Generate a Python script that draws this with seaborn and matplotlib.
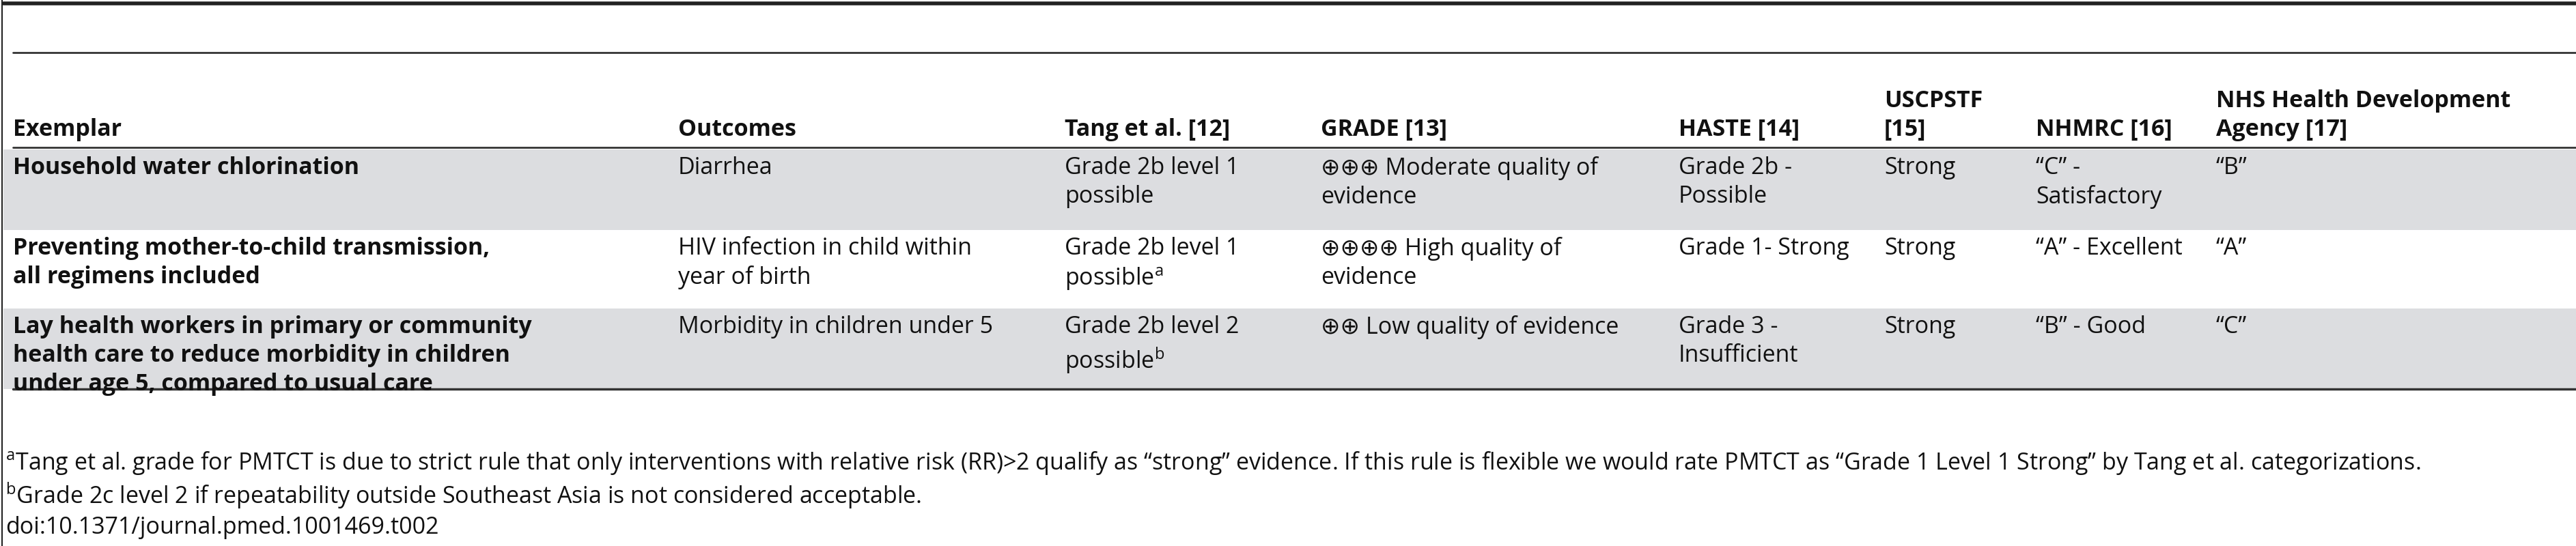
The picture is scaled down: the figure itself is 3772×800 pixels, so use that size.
import matplotlib
matplotlib.use("Agg")
import matplotlib.pyplot as plt
import seaborn as sns

headers = ["Exemplar", "Outcomes", "Tang et al. [12]", "GRADE [13]", "HASTE [14]",
           "USCPSTF\n[15]", "NHMRC [16]", "NHS Health Development\nAgency [17]"]
exemplars = ["Household water chlorination",
             "Preventing mother-to-child transmission,\nall regimens included",
             "Lay health workers in primary or community\nhealth care to reduce morbidity in children\nunder age 5, compared to usual care"]
outcomes = ["Diarrhea", "HIV infection in child within\nyear of birth", "Morbidity in children under 5"]
tang = ["Grade 2b level 1\npossible", "Grade 2b level 1\npossible$^{\\mathrm{a}}$", "Grade 2b level 2\npossible$^{\\mathrm{b}}$"]
grade = ["\u2295\u2295\u2295 Moderate quality of\nevidence", "\u2295\u2295\u2295\u2295 High quality of\nevidence",
         "\u2295\u2295 Low quality of evidence"]
haste = ["Grade 2b -\nPossible", "Grade 1- Strong", "Grade 3 -\nInsufficient"]
uscpstf = ["Strong", "Strong", "Strong"]
nhmrc = ["\u201cC\u201d -\nSatisfactory", "\u201cA\u201d - Excellent", "\u201cB\u201d - Good"]
nhs = ["\u201cB\u201d", "\u201cA\u201d", "\u201cC\u201d"]
footnotes = ["$^{\\mathrm{a}}$Tang et al. grade for PMTCT is due to strict rule that only interventions with relative risk (RR)>2 qualify as \u201cstrong\u201d evidence. If this rule is flexible we would rate PMTCT as \u201cGrade 1 Level 1 Strong\u201d by Tang et al. categorizations.",
             "$^{\\mathrm{b}}$Grade 2c level 2 if repeatability outside Southeast Asia is not considered acceptable.",
             "doi:10.1371/journal.pmed.1001469.t002"]

sns.set_theme(style="white")
FAM = ["Open Sans", "DejaVu Sans"]
plt.rcParams['font.family'] = FAM
plt.rcParams['mathtext.fontset'] = 'custom'
plt.rcParams['mathtext.rm'] = 'Open Sans'

fig = plt.figure(figsize=(37.72, 8), dpi=100)
ax = fig.add_axes([0, 0, 1, 1])
ax.set_xlim(0, 3772)
ax.set_ylim(800, 0)
ax.axis("off")

colx = [19, 993, 1559, 1934, 2458, 2759, 2981, 3245]
row_bounds = [219, 337, 452, 570]
FS = 24.5
LS = 1.3

for i, (y0, y1) in enumerate(zip(row_bounds[:-1], row_bounds[1:])):
    if i % 2 == 0:
        ax.axhspan(y0, y1, xmin=5 / 3772, xmax=1, color="#dcdde0", lw=0)

ax.plot([5, 3772], [5, 5], color="#222", lw=4)
ax.plot([3, 3], [0, 800], color="#222", lw=1.5)
for y, lw in [(77, 2), (216, 2), (570, 2.5)]:
    ax.plot([19, 3772], [y, y], color="#333", lw=lw)

for x, h in zip(colx, headers):
    ax.text(x, 207, h, fontsize=FS, fontweight="bold", va="bottom", ha="left",
            linespacing=LS, color="#111")

cols = [exemplars, outcomes, tang, grade, haste, uscpstf, nhmrc, nhs]
for r in range(3):
    ytop = row_bounds[r] + 10
    for c, (x, col) in enumerate(zip(colx, cols)):
        ax.text(x, ytop, col[r], fontsize=FS, va="top", ha="left", linespacing=LS,
                fontweight="bold" if c == 0 else "normal", color="#111")

for txt, y in zip(footnotes, [698, 748, 790]):
    ax.text(8, y, txt, fontsize=FS, va="bottom", ha="left", color="#111")

fig.savefig("out.png", dpi=100)
